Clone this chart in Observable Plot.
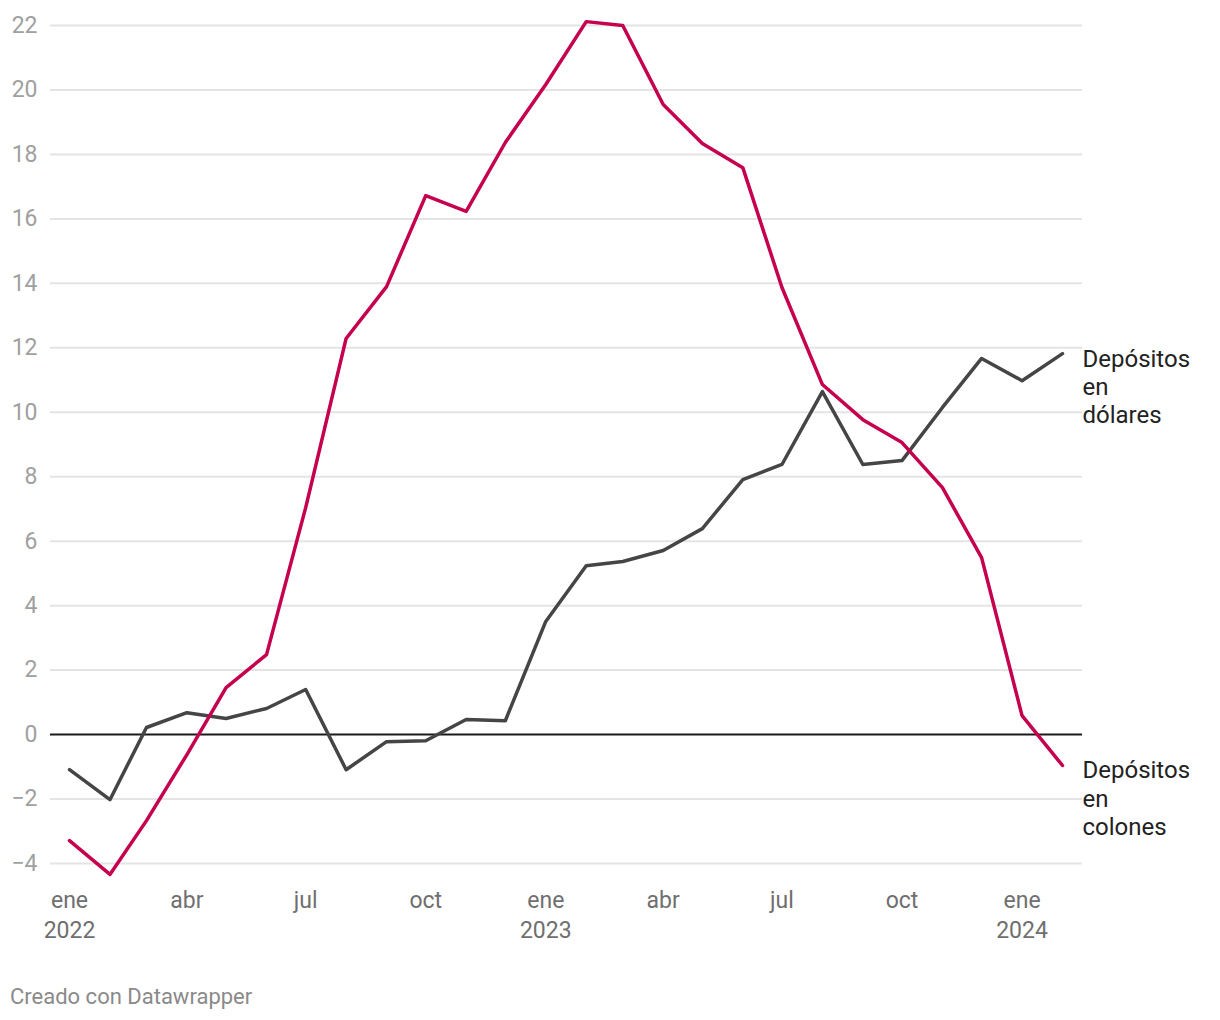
<!DOCTYPE html>
<html><head><meta charset="utf-8">
<script src="https://cdn.jsdelivr.net/npm/d3@7"></script>
<script src="https://cdn.jsdelivr.net/npm/@observablehq/plot@0.6"></script>
<style>
body{margin:0;background:#fff;font-family:Roboto,sans-serif;}
#chart{position:relative;width:1220px;height:1020px;}
.credit{position:absolute;left:10px;top:984px;font-size:22px;color:#8a8a8a;font-family:Roboto,sans-serif;}
</style></head><body><div id="chart"></div><script>
const months = ["2022-01","2022-02","2022-03","2022-04","2022-05","2022-06","2022-07","2022-08","2022-09","2022-10","2022-11","2022-12",
  "2023-01","2023-02","2023-03","2023-04","2023-05","2023-06","2023-07","2023-08","2023-09","2023-10","2023-11","2023-12",
  "2024-01","2024-02"];
const colones = [-3.29,-4.34,-2.67,-0.62,1.46,2.48,7.04,12.29,13.9,16.72,16.23,18.37,20.17,22.12,22.0,19.55,18.34,17.59,13.87,10.86,9.77,9.06,7.66,5.49,0.59,-0.96];
const dolares = [-1.09,-2.02,0.22,0.68,0.50,0.81,1.40,-1.09,-0.22,-0.19,0.47,0.43,3.51,5.24,5.37,5.71,6.39,7.91,8.38,10.64,8.38,8.50,10.15,11.67,10.98,11.82];
const seriesNames = ["Depósitos\nen\ncolones","Depósitos\nen\ndólares"];
const monthNames = ["ene","feb","mar","abr","may","jun","jul","ago","sep","oct","nov","dic"];
const xTicks = ["2022-01","2022-04","2022-07","2022-10","2023-01","2023-04","2023-07","2023-10","2024-01"];
const yTicks = [-4,-2,0,2,4,6,8,10,12,14,16,18,20,22];

const parse = d3.utcParse("%Y-%m");
const rows = [];
months.forEach((m,i)=>{
  rows.push({date:parse(m), value:colones[i], series:seriesNames[0]});
  rows.push({date:parse(m), value:dolares[i], series:seriesNames[1]});
});
const colors = {[seriesNames[0]]:"#c5004e",[seriesNames[1]]:"#454545"};
const lastRows = rows.filter(r=>+r.date===+parse(months[months.length-1]));

const chart = Plot.plot({
  width:1220, height:960,
  marginLeft:50, marginRight:138, marginTop:25, marginBottom:97,
  insetLeft:19, insetRight:20,
  style:{fontFamily:"Roboto, sans-serif", fontSize:"23px", background:"#fff"},
  x:{type:"utc", domain:[parse(months[0]), parse(months[months.length-1])]},
  y:{domain:[-4,22]},
  marks:[
    Plot.ruleY(yTicks.filter(d=>d!==0), {stroke:"#e4e4e4", strokeWidth:2}),
    Plot.axisY({ticks:yTicks, tickSize:0, tickPadding:13, fill:"#a0a0a0", fontSize:23, label:null}),
    Plot.axisX({ticks:xTicks.map(parse), tickSize:0, tickPadding:23, fill:"#6f6f6f", fontSize:23, lineHeight:1.3, label:null,
      tickFormat:d=> d.getUTCMonth()===0 ? `ene\n${d.getUTCFullYear()}` : monthNames[d.getUTCMonth()]}),
    Plot.ruleY([0], {stroke:"#1a1a1a", strokeWidth:2}),
    Plot.line(rows.filter(r=>r.series===seriesNames[1]), {x:"date", y:"value", stroke:colors[seriesNames[1]], strokeWidth:3.5}),
    Plot.line(rows.filter(r=>r.series===seriesNames[0]), {x:"date", y:"value", stroke:colors[seriesNames[0]], strokeWidth:3.5}),
    Plot.text(lastRows, {x:"date", y:"value", text:"series", dx:20, dy:-7, textAnchor:"start", lineAnchor:"top", lineHeight:1.17, fill:"#222", fontSize:24})
  ]
});
document.getElementById("chart").appendChild(chart);
const c = document.createElement("div");
c.className = "credit";
c.textContent = "Creado con Datawrapper";
document.getElementById("chart").appendChild(c);
</script></body></html>
